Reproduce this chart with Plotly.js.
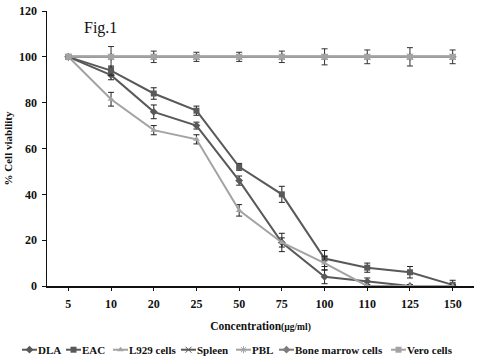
<!DOCTYPE html>
<html>
<head>
<meta charset="utf-8">
<script src="https://cdn.plot.ly/plotly-3.0.1.min.js"></script>
<style>html,body{margin:0;padding:0;background:#fff;}#chart{width:479px;height:363px;}</style>
</head>
<body>
<div id="chart"></div>
<script>
var concentrations = ["5", "10", "20", "25", "50", "75", "100", "110", "125", "150"];
var dla = [100, 92, 76, 70, 46, 19, 4, 2, 0, 0];
var dlaErr = [0, 2, 3, 1.5, 2, 2, 3, 1.5, 0.5, 0.5];
var eac = [100, 94, 84, 76.5, 52, 40, 12, 8, 6, 0.5];
var eacErr = [0, 2, 2.5, 2, 1.5, 3.5, 3.5, 2, 2.5, 2];
var l929 = [100, 81.5, 68, 64, 33, 19, 10, 0, 0, 0];
var l929Err = [0, 3, 2, 2, 2.5, 4, 3, 0.5, 0.5, 0.5];
var spleen = [100, 100, 100, 100, 100, 100, 100, 100, 100, 100];
var pbl = [100, 100, 100, 100, 100, 100, 100, 100, 100, 100];
var boneMarrow = [100, 100, 100, 100, 100, 100, 100, 100, 100, 100];
var vero = [100, 100, 100, 100, 100, 100, 100, 100, 100, 100];
var normalErr = [0, 4.5, 2.5, 2, 2, 2.5, 3.5, 3, 4, 3];
var seriesNames = ["DLA", "EAC", "L929 cells", "Spleen", "PBL", "Bone marrow cells", "Vero cells"];

var dark = "#595959", mid = "#7c7c7c", light = "#a3a3a3";
var serif = "Liberation Serif, Times New Roman, serif";
function tr(name, y, err, color, symbol, size, errColor) {
  return {
    type: "scatter", mode: "lines+markers", name: name, x: concentrations, y: y,
    line: {color: color, width: 2},
    marker: {color: color, symbol: symbol, size: size},
    error_y: err ? {type: "data", array: err, visible: true, color: errColor || "#222", thickness: 1, width: 3} : {visible: false}
  };
}
var data = [
  tr(seriesNames[0], dla, dlaErr, dark, "diamond", 6),
  tr(seriesNames[1], eac, eacErr, dark, "square", 6),
  tr(seriesNames[2], l929, l929Err, light, "triangle-up", 6),
  tr(seriesNames[3], spleen, null, dark, "x-thin-open", 6),
  tr(seriesNames[4], pbl, null, light, "asterisk-open", 6),
  tr(seriesNames[5], boneMarrow, null, mid, "diamond", 6),
  tr(seriesNames[6], vero, normalErr, light, "square", 6, "#333")
];

var layout = {
  width: 479, height: 363,
  margin: {l: 47, r: 5, t: 11, b: 77, autoexpand: false},
  paper_bgcolor: "#fff", plot_bgcolor: "#fff",
  font: {family: serif, color: "#111", size: 12},
  showlegend: true,
  legend: {orientation: "h", x: 0.46, xanchor: "center", y: -0.2, yanchor: "top",
    bgcolor: "rgba(0,0,0,0)",
    font: {family: serif, size: 11, weight: "bold", color: "#111"},
    itemwidth: 30, traceorder: "normal"},
  xaxis: {type: "category", range: [-0.5, 9.5], showline: true, linecolor: "#111", linewidth: 1.5,
    ticks: "outside", ticklen: 3, tickcolor: "#111", showgrid: false, zeroline: false,
    ticklabelstandoff: 3,
    tickfont: {family: serif, size: 12, weight: "bold", color: "#111"},
    title: {text: "Concentration<span style='font-size:9.5px'>(µg/ml)</span>", standoff: 12,
      font: {family: serif, size: 11.5, weight: "bold", color: "#111"}}},
  yaxis: {range: [0, 120], dtick: 20, showline: true, linecolor: "#111", linewidth: 1.5,
    ticks: "outside", ticklen: 4, tickcolor: "#111", showgrid: false, zeroline: false,
    ticklabelstandoff: 2,
    tickfont: {family: serif, size: 12, weight: "bold", color: "#111"},
    title: {text: "% Cell viability", standoff: 4, font: {family: serif, size: 11, weight: "bold", color: "#111"}}},
  annotations: [{text: "Fig.1", xref: "paper", yref: "paper", x: 0.082, y: 0.94, xanchor: "left", yanchor: "middle",
    showarrow: false, font: {family: serif, size: 16, color: "#111"}}]
};

// legend entry text positions (px) as laid out in the original one-row legend
var legendTextLeft = [38, 82, 129, 197, 252, 295, 407];
var legendCenterY = 350;

Plotly.newPlot("chart", data, layout, {displayModeBar: false, staticPlot: true}).then(function (gd) {
  try {
    var lg = gd.querySelector("g.legend");
    var sb = lg.querySelector(".scrollbox");
    if (sb) sb.removeAttribute("clip-path");
    var items = lg.querySelectorAll("g.traces");
    items.forEach(function (it, i) {
      var txt = it.querySelector("text.legendtext");
      var r = txt.getBoundingClientRect();
      var m = /translate\(\s*([-\d.e]+)[\s,]*([-\d.e]+)?\s*\)/.exec(it.getAttribute("transform") || "translate(0,0)");
      var tx = m ? +m[1] : 0, ty = m && m[2] ? +m[2] : 0;
      var dx = legendTextLeft[i] - r.left;
      var dy = legendCenterY - (r.top + r.height / 2);
      it.setAttribute("transform", "translate(" + (tx + dx) + "," + (ty + dy) + ")");
      var ln = it.querySelector(".legendlines path");
      if (ln) ln.setAttribute("d", "M24,0h15");
      it.querySelectorAll(".legendpoints path").forEach(function (p) {
        p.setAttribute("transform", "translate(31.5,0)");
      });
    });
  } catch (e) {}
});
</script>
</body>
</html>
